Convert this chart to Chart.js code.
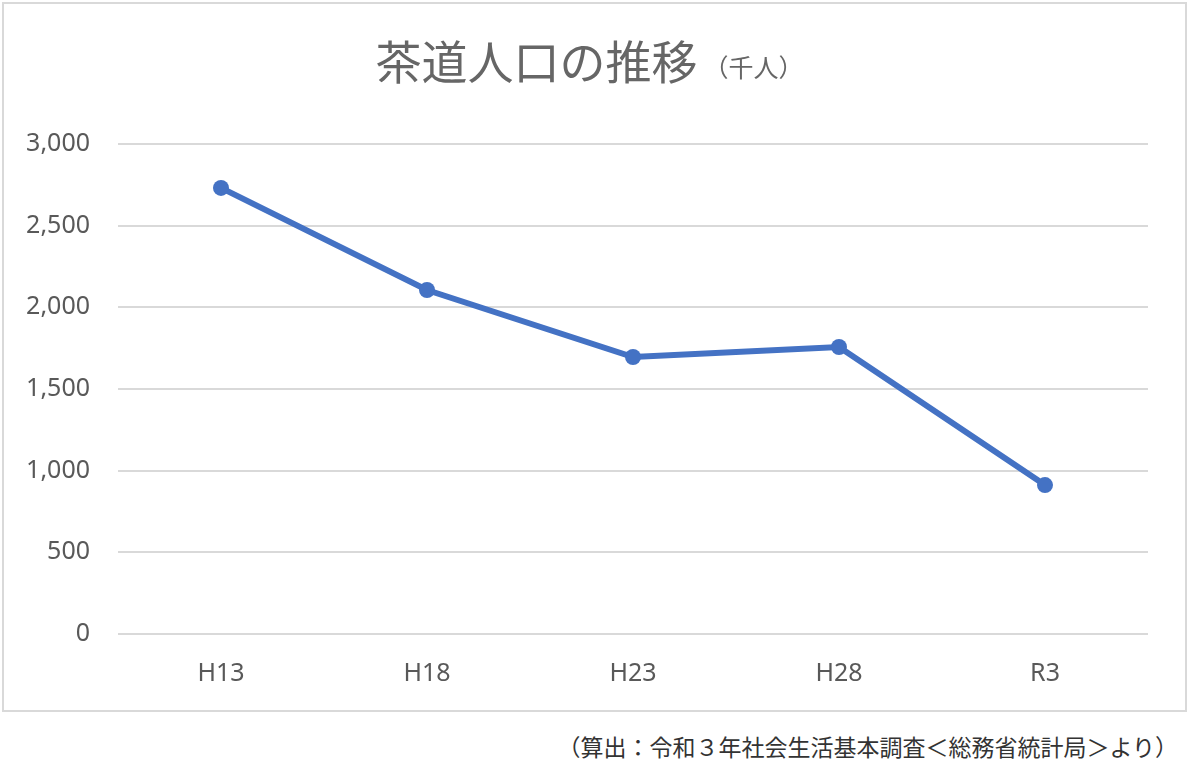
<!DOCTYPE html>
<html>
<head>
<meta charset="utf-8">
<script src="https://cdn.jsdelivr.net/npm/chart.js@4/dist/chart.umd.min.js"></script>
<style>
  html, body { margin: 0; padding: 0; background: #fff; }
  #box {
    position: absolute; left: 2px; top: 2px;
    width: 1185px; height: 710px;
    box-sizing: border-box;
    border: 2px solid #d9d9d9;
  }
  #note {
    position: absolute; right: 22px; top: 729px;
    font-family: "Noto Sans CJK JP", sans-serif;
    font-size: 23px; color: #333;
    white-space: nowrap;
  }
</style>
</head>
<body>
<div id="box"><canvas id="line-chart"></canvas></div>
<div id="note">（算出：令和３年社会生活基本調査＜総務省統計局＞より）</div>
<script>
var categories = ['H13', 'H18', 'H23', 'H28', 'R3']
var teaPopulation = [2731, 2106, 1696, 1757, 912]
var yTicks = [0, 500, 1000, 1500, 2000, 2500, 3000]

var titleMain = '茶道人口の推移'
var titleUnit = '（千人）'
var gray = '#595959'
var blue = '#4472C4'

// title with two font sizes, drawn after the chart
var twoSizeTitle = {
    id: 'twoSizeTitle',
    afterDraw: function (chart) {
        var ctx = chart.ctx
        ctx.save()
        ctx.fillStyle = '#666'
        ctx.textBaseline = 'alphabetic'
        var bigFont = '46px "Noto Sans CJK JP", sans-serif'
        var smallFont = '25px "Noto Sans CJK JP", sans-serif'
        ctx.font = bigFont
        var w1 = ctx.measureText(titleMain).width
        ctx.font = smallFont
        var w2 = ctx.measureText(titleUnit).width
        var x = chart.width / 2 - (w1 + w2) / 2 - 8
        var y = 75
        ctx.font = bigFont
        ctx.fillText(titleMain, x, y)
        ctx.font = smallFont
        ctx.fillText(titleUnit, x + w1 + 6, y - 2)
        ctx.restore()
    }
}

var ctx = document.getElementById('line-chart').getContext('2d')
var lineChart = new Chart(ctx, {
    type: 'line',
    data: {
        labels: categories,
        datasets: [{
            label: '茶道人口',
            data: teaPopulation,
            borderColor: blue,
            backgroundColor: blue,
            borderWidth: 6,
            pointRadius: 8,
            pointBorderWidth: 0,
            pointBackgroundColor: blue,
            tension: 0
        }]
    },
    options: {
        responsive: true,
        maintainAspectRatio: false,
        animation: false,
        layout: {
            padding: { top: 140, right: 37, bottom: 0, left: 0 }
        },
        plugins: {
            legend: { display: false },
            tooltip: { enabled: false },
            title: { display: false }
        },
        scales: {
            x: {
                offset: true,
                grid: { display: false, drawTicks: false },
                border: { display: false },
                ticks: {
                    color: gray,
                    padding: 25,
                    font: { family: '"Noto Sans", "Open Sans", sans-serif', size: 25 }
                },
                afterFit: function (scale) { scale.height = 76 }
            },
            y: {
                min: 0,
                max: 3000,
                afterBuildTicks: function (scale) {
                    scale.ticks = yTicks.map(function (v) { return { value: v } })
                },
                grid: { color: '#d9d9d9', lineWidth: 2, drawTicks: false },
                border: { display: false },
                ticks: {
                    color: gray,
                    padding: 28,
                    font: { family: '"Noto Sans", "Open Sans", sans-serif', size: 25 },
                    callback: function (v) { return v.toLocaleString('en-US') }
                },
                afterFit: function (scale) { scale.width = 114 }
            }
        }
    },
    plugins: [twoSizeTitle]
})
</script>
</body>
</html>
